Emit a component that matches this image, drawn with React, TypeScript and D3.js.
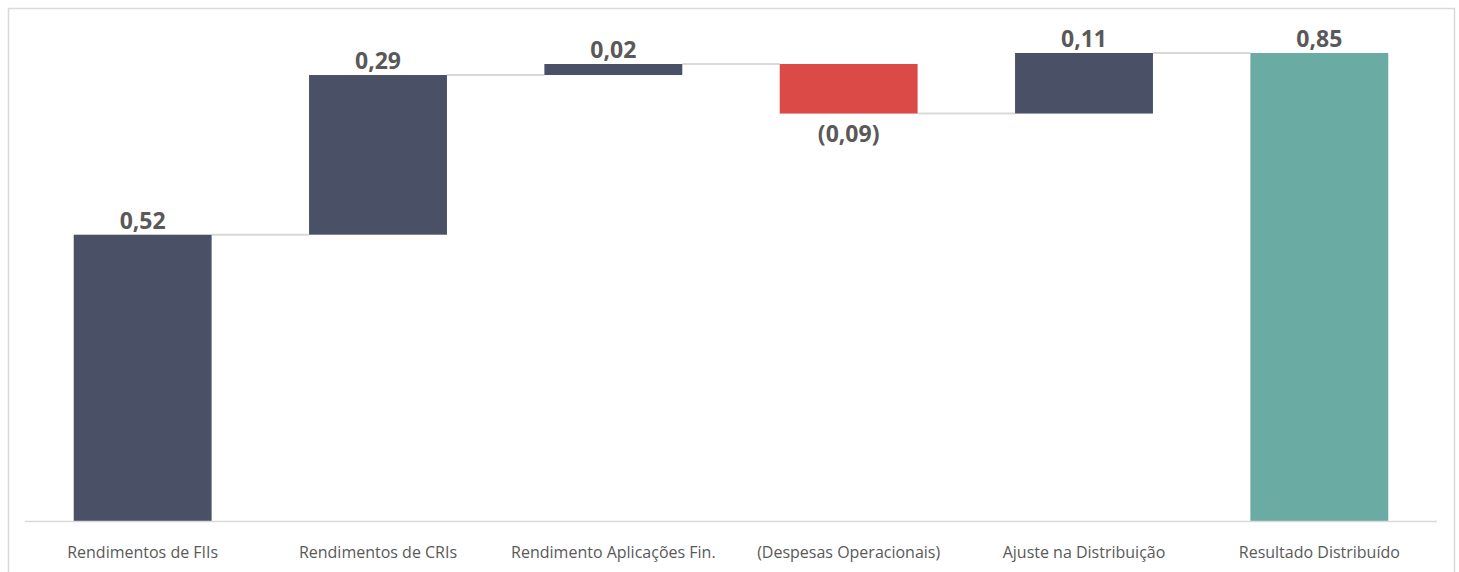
import React, { useEffect, useRef } from "react";
import * as d3 from "d3";

// categories and values
const categories = [
  "Rendimentos de FIIs",
  "Rendimentos de CRIs",
  "Rendimento Aplicações Fin.",
  "(Despesas Operacionais)",
  "Ajuste na Distribuição",
  "Resultado Distribuído",
];
const values = [0.52, 0.29, 0.02, -0.09, 0.11, 0.85];
const isTotal = [false, false, false, false, false, true];

const WIDTH = 1459;
const HEIGHT = 572;

const COLOR_UP = "#4a5166";
const COLOR_DOWN = "#db4a47";
const COLOR_TOTAL = "#6aaca3";
const TEXT = "#595959";
const LINE = "#d9d9d9";

const fmt = (v: number) => {
  const s = Math.abs(v).toFixed(2).replace(".", ",");
  return v < 0 ? `(${s})` : s;
};

export default function App() {
  const ref = useRef<SVGSVGElement>(null);

  useEffect(() => {
    const svg = d3.select(ref.current);
    svg.selectAll("*").remove();

    // build waterfall steps
    let running = 0;
    const steps = values.map((v, i) => {
      let start, end;
      if (isTotal[i]) {
        start = 0;
        end = v;
        running = v;
      } else {
        start = running;
        end = running + v;
        running = end;
      }
      return { label: categories[i], value: v, start, end, total: isTotal[i] };
    });

    const x = d3
      .scaleBand()
      .domain(categories)
      .range([25, 1437])
      .paddingInner(0.414)
      .paddingOuter(0.207);

    const y = d3.scaleLinear().domain([0, 0.85]).range([521, 53]);

    // frame
    svg
      .append("rect")
      .attr("x", 8.5)
      .attr("y", 8.5)
      .attr("width", 1446)
      .attr("height", 600)
      .attr("fill", "none")
      .attr("stroke", LINE)
      .attr("stroke-width", 1.5);

    // connectors
    steps.forEach((d, i) => {
      if (i === steps.length - 1) return;
      const lvl = d.end;
      svg
        .append("line")
        .attr("x1", x(d.label)! + x.bandwidth())
        .attr("x2", x(steps[i + 1].label)!)
        .attr("y1", y(lvl))
        .attr("y2", y(lvl))
        .attr("stroke", LINE)
        .attr("stroke-width", 2);
    });

    // bars
    svg
      .selectAll(".bar")
      .data(steps)
      .enter()
      .append("rect")
      .attr("x", (d) => x(d.label)!)
      .attr("width", x.bandwidth())
      .attr("y", (d) => y(Math.max(d.start, d.end)))
      .attr("height", (d) => Math.abs(y(d.start) - y(d.end)))
      .attr("fill", (d) => (d.total ? COLOR_TOTAL : d.value < 0 ? COLOR_DOWN : COLOR_UP));

    // baseline axis
    svg
      .append("line")
      .attr("x1", 25)
      .attr("x2", 1437)
      .attr("y1", y(0) + 0.5)
      .attr("y2", y(0) + 0.5)
      .attr("stroke", LINE)
      .attr("stroke-width", 1.5);

    // value labels
    svg
      .selectAll(".val")
      .data(steps)
      .enter()
      .append("text")
      .attr("x", (d) => x(d.label)! + x.bandwidth() / 2)
      .attr("y", (d) =>
        d.value < 0 ? y(Math.min(d.start, d.end)) + 28 : y(Math.max(d.start, d.end)) - 6
      )
      .attr("text-anchor", "middle")
      .attr("font-family", "'Open Sans', sans-serif")
      .attr("font-weight", "bold")
      .attr("font-size", 23)
      .attr("fill", TEXT)
      .text((d) => fmt(d.value));

    // category labels
    svg
      .selectAll(".cat")
      .data(categories)
      .enter()
      .append("text")
      .attr("x", (d) => x(d)! + x.bandwidth() / 2)
      .attr("y", 558)
      .attr("text-anchor", "middle")
      .attr("font-family", "'Open Sans', sans-serif")
      .attr("font-size", 16)
      .attr("fill", TEXT)
      .text((d) => d);
  }, []);

  return (
    <svg
      ref={ref}
      width={WIDTH}
      height={HEIGHT}
      style={{ position: "absolute", left: 0, top: 0, background: "#fff" }}
    />
  );
}
